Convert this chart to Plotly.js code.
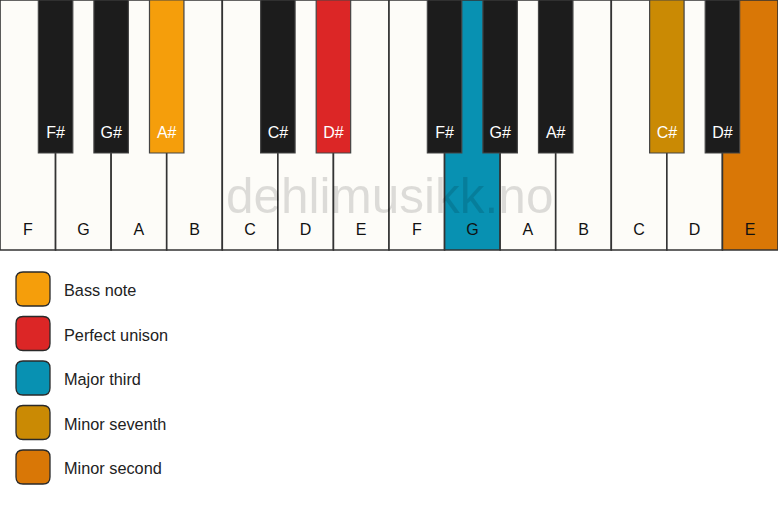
<!DOCTYPE html>
<html>
<head>
<meta charset="utf-8">
<script src="https://cdn.plot.ly/plotly-3.0.1.min.js"></script>
<style>html,body{margin:0;padding:0;background:#fff;}#chart{width:778px;height:506px;}</style>
</head>
<body>
<div id="chart"></div>
<script>
// Data
const whiteNotes = ["F","G","A","B","C","D","E","F","G","A","B","C","D","E"];
const whiteRoles = ["","","","","","","","","Major third","","","","","Minor second"];
const blackNotes = ["F#","G#","A#","C#","D#","F#","G#","A#","C#","D#"];
const blackPos   = [1,2,3,5,6,8,9,10,12,13];
const blackRoles = ["","","Bass note","","Perfect unison","","","","Minor seventh",""];
const legendLabels = ["Bass note","Perfect unison","Major third","Minor seventh","Minor second"];
const legendColors = ["#F59E0B","#DC2626","#0891B2","#CA8A04","#D97706"];
const watermark = "dehlimusikk.no";

const W = 778, H = 506;
const WHITE_H = 250, BLACK_H = 153;
const colorOf = r => r ? legendColors[legendLabels.indexOf(r)] : null;

const whiteX = whiteNotes.map((_, i) => i + 0.5);
const whiteColors = whiteRoles.map(r => colorOf(r) || "#FDFCF8");
const blackColors = blackRoles.map(r => colorOf(r) || "#1C1C1C");

const traces = [
  {type:"bar", x: whiteX, y: whiteNotes.map(() => WHITE_H), base: 0, width: 1,
   marker:{color: whiteColors, line:{color:"#333", width:1.6}}, hoverinfo:"skip"},
  {type:"bar", x: blackPos, y: blackPos.map(() => BLACK_H), base: 0, width: 0.62,
   marker:{color: blackColors, line:{color:"#444", width:1.2}}, hoverinfo:"skip"},
  {type:"scatter", mode:"text", x: whiteX, y: whiteNotes.map(() => 231), text: whiteNotes,
   textfont:{family:"Liberation Sans, Arial, sans-serif", size:16, color:"#111"}, hoverinfo:"skip"},
  {type:"scatter", mode:"text", x: blackPos, y: blackPos.map(() => 133.5), text: blackNotes,
   textfont:{family:"Liberation Sans, Arial, sans-serif", size:16, color:"#FFFFFF"}, hoverinfo:"skip"}
];

function roundRect(x, y, w, h, r) {
  const px = v => v / W, py = v => 1 - v / H;
  return `M ${px(x + r)} ${py(y)} L ${px(x + w - r)} ${py(y)} Q ${px(x + w)} ${py(y)} ${px(x + w)} ${py(y + r)} ` +
    `L ${px(x + w)} ${py(y + h - r)} Q ${px(x + w)} ${py(y + h)} ${px(x + w - r)} ${py(y + h)} ` +
    `L ${px(x + r)} ${py(y + h)} Q ${px(x)} ${py(y + h)} ${px(x)} ${py(y + h - r)} ` +
    `L ${px(x)} ${py(y + r)} Q ${px(x)} ${py(y)} ${px(x + r)} ${py(y)} Z`;
}

const shapes = [];
const annotations = [];
legendLabels.forEach((lab, i) => {
  const top = 272 + i * 44.5;
  shapes.push({type:"path", xref:"paper", yref:"paper", path: roundRect(16, top, 34, 34, 7),
    fillcolor: legendColors[i], line:{color:"#2a2a2a", width:1.3}, layer:"above"});
  annotations.push({xref:"paper", yref:"paper", x: 62 / W, y: 1 - (top + 18) / H,
    xanchor:"left", yanchor:"middle", text: lab, showarrow:false,
    font:{family:"Liberation Sans, Arial, sans-serif", size:16.3, color:"#222"}});
});
annotations.push({xref:"paper", yref:"paper", x: 389 / W, y: 1 - 195 / H, xanchor:"center", yanchor:"middle",
  text: watermark, showarrow:false,
  font:{family:"Liberation Sans, Arial, sans-serif", size:49.5, color:"rgba(0,0,0,0.13)"}});

const layout = {
  width: W, height: H, margin:{l:0, r:0, t:0, b:0, pad:0},
  paper_bgcolor:"#FFFFFF", plot_bgcolor:"#FFFFFF",
  barmode:"overlay", showlegend:false,
  xaxis:{range:[0,14], visible:false, fixedrange:true},
  yaxis:{range:[H,0], visible:false, fixedrange:true},
  shapes, annotations
};
Plotly.newPlot("chart", traces, layout, {displayModeBar:false, staticPlot:true});
</script>
</body>
</html>
